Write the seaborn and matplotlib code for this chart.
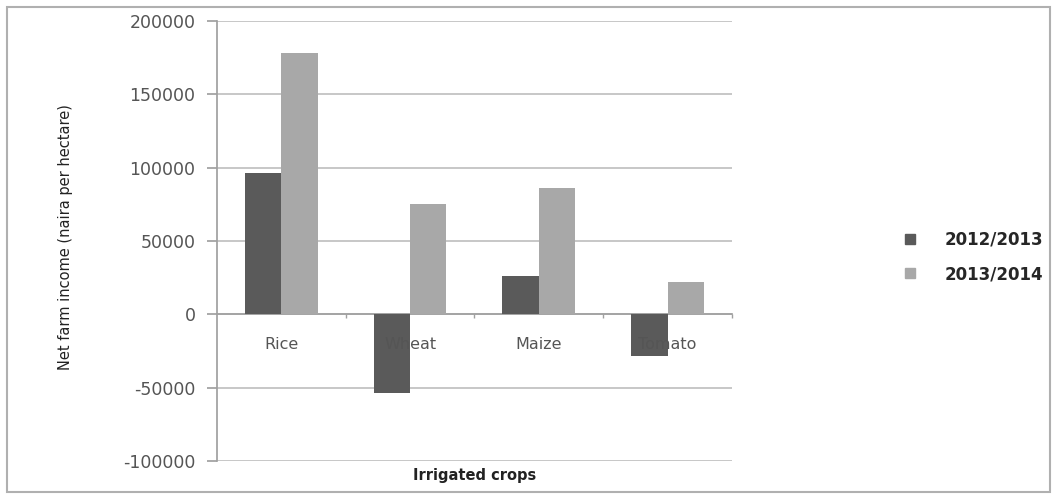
import pandas as pd
import matplotlib.pyplot as plt
import seaborn as sns
from matplotlib.patches import Rectangle
from matplotlib.lines import Line2D

crops = ["Rice", "Wheat", "Maize", "Tomato"]
seasons = ["2012/2013", "2013/2014"]
income_2012_2013 = [96000, -53700, 26400, -28700]
income_2013_2014 = [178400, 75500, 86200, 21800]
y_ticks = [-100000, -50000, 0, 50000, 100000, 150000, 200000]

df = pd.DataFrame({
    "crop": crops * 2,
    "season": [seasons[0]] * 4 + [seasons[1]] * 4,
    "income": income_2012_2013 + income_2013_2014,
})

sns.set_theme(style="white")
plt.rcParams['font.family'] = ['DejaVu Sans']

fig = plt.figure(figsize=(10.57, 4.99), dpi=100)
ax = fig.add_axes([0.2053, 0.0762, 0.4872, 0.8818])

colors = {"2012/2013": "#5a5a5a", "2013/2014": "#a8a8a8"}
sns.barplot(data=df, x="crop", y="income", hue="season", palette=colors,
            width=0.565, saturation=1, linewidth=0, ax=ax, legend=False, zorder=2)

ax.set_ylim(-100000, 200000)
ax.set_yticks(y_ticks)
ax.set_yticklabels([str(v) for v in y_ticks], fontsize=12.5, color="#555555")
# gridlines drawn behind bars; axis (and its labels) drawn above them
ax.yaxis.grid(False)
for v in y_ticks:
    ax.axhline(v, color="#b8b8b8", linewidth=1.1, zorder=0.5)
ax.set_axisbelow(False)
ax.set_xlim(-0.5, 3.5)

# Excel-style category axis sitting on zero
ax.spines['bottom'].set_position(('data', 0))
for s in ['top', 'right']:
    ax.spines[s].set_visible(False)
ax.spines['bottom'].set_color("#a0a0a0")
ax.spines['left'].set_color("#a0a0a0")
ax.spines['bottom'].set_zorder(1)
ax.tick_params(axis='y', which='major', left=True, length=7.5, color="#a0a0a0", pad=8)
ax.tick_params(axis='x', which='major', bottom=False, labelsize=11.5, labelcolor="#555555", pad=10)
ax.set_xticks([0.5, 1.5, 2.5, 3.5], minor=True)
ax.tick_params(axis='x', which='minor', bottom=True, length=3, color="#a0a0a0")

ax.set_ylabel("Net farm income (naira per hectare)", fontsize=10.5, color="#222222")
ax.yaxis.set_label_coords(-0.28, 0.51)
ax.set_xlabel("Irrigated crops", fontsize=10.5, fontweight='bold', color="#222222")
ax.xaxis.set_label_coords(0.5, -0.017)

handles = [Line2D([0], [0], marker='s', linestyle='', markersize=7,
                  markerfacecolor=colors[s], markeredgecolor=colors[s]) for s in seasons]
fig.legend(handles, seasons, loc='center left', bbox_to_anchor=(0.831, 0.485),
           frameon=False, prop={'weight': 'bold', 'size': 12},
           handletextpad=1.1, labelspacing=1.0)

fig.patches.append(Rectangle((0.007, 0.014), 0.986, 0.972, transform=fig.transFigure,
                             fill=False, edgecolor="#b0b0b0", linewidth=1.5))

fig.savefig("out.png", dpi=100)
